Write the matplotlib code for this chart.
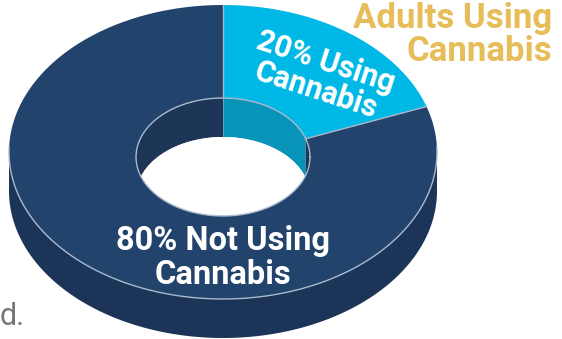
import numpy as np
import matplotlib.pyplot as plt
from matplotlib.patches import Polygon, Ellipse

plt.rcParams['font.family'] = ['Roboto', 'DejaVu Sans']

# share of adults, first slice starts at 12 o'clock and runs clockwise
labels = ['20% Using\nCannabis', '80% Not Using\nCannabis']
shares = [20, 80]
top_colors = ['#00b8e6', '#22436b']
wall_colors = ['#0794b8', '#1d3557']
side_color = '#1c3458'
rim = '#a9b8cc'

# ellipse geometry in pixels
cx, cy, rx, ry = 223, 152, 214, 147
icx, icy, irx, iry = 223, 157, 87, 59
depth = 39

fig = plt.figure(figsize=(5.62, 3.39), dpi=100)
ax = fig.add_axes([0, 0, 1, 1])
ax.set_xlim(0, 562)
ax.set_ylim(339, 0)
ax.axis('off')


def arc(x0, y0, a, b, t1, t2, n=200, dy=0):
    t = np.radians(np.linspace(t1, t2, n))
    return np.column_stack([x0 + a*np.cos(t), y0 - b*np.sin(t) + dy])


# outer side wall
side = np.vstack([arc(cx, cy, rx, ry, 180, 360), arc(cx, cy, rx, ry, 360, 180, dy=depth)])
ax.add_patch(Polygon(side, closed=True, fc=side_color, ec='none'))

# top face wedges
angles = 90 - np.cumsum([0] + shares) * 3.6
for i in range(len(shares)):
    t1, t2 = angles[i], angles[i+1]
    pts = np.vstack([arc(cx, cy, rx, ry, t1, t2), arc(icx, icy, irx, iry, t2, t1)])
    ax.add_patch(Polygon(pts, closed=True, fc=top_colors[i], ec='none'))

# hole: back inner wall, then the bottom opening
hole = Ellipse((icx, icy), 2*irx, 2*iry, fc='none', ec='none')
ax.add_patch(hole)
for i in range(len(shares)):
    t1, t2 = angles[i], angles[i+1]
    pts = np.vstack([arc(icx, icy, irx, iry, t1, t2), arc(icx, icy, irx, iry, t2, t1, dy=depth)])
    w = Polygon(pts, closed=True, fc=wall_colors[i], ec='none')
    ax.add_patch(w)
    w.set_clip_path(hole)
bottom = Ellipse((icx, icy + depth), 2*irx, 2*iry, fc='white', ec='none')
ax.add_patch(bottom)
bottom.set_clip_path(hole)
ax.plot([icx, icx], [icy - iry, icy - iry + depth], color=rim, lw=0.6, alpha=0.6)

# rim highlights
front = arc(cx, cy, rx, ry, 178, 362)
ax.plot(front[:, 0], front[:, 1], color=rim, lw=1.0)
inner = arc(icx, icy, irx, iry, 0, 360)
ax.plot(inner[:, 0], inner[:, 1], color=rim, lw=1.0)
for a in angles[:2]:
    t = np.radians(a)
    ax.plot([icx + irx*np.cos(t), cx + rx*np.cos(t)],
            [icy - iry*np.sin(t), cy - ry*np.sin(t)], color=rim, lw=1.0)

# slice labels
ax.text(321, 76, labels[0], color='white', fontsize=22, fontweight='bold',
        ha='center', va='center', rotation=-18, rotation_mode='anchor',
        multialignment='center', linespacing=0.95)
ax.text(223, 258, labels[1], color='white', fontsize=23.5, fontweight='bold',
        ha='center', va='center', multialignment='center', linespacing=1.05)

# title in the corner
ax.text(552, 35, 'Adults Using\nCannabis', color='#e6bd58', fontsize=25,
        fontweight='bold', ha='right', va='center', multialignment='right',
        linespacing=1.0)

# tail of a neighbouring caption
ax.text(0, 325, 'd.', color='#777777', fontsize=22, ha='left', va='baseline')

fig.savefig('out.png', dpi=100)
